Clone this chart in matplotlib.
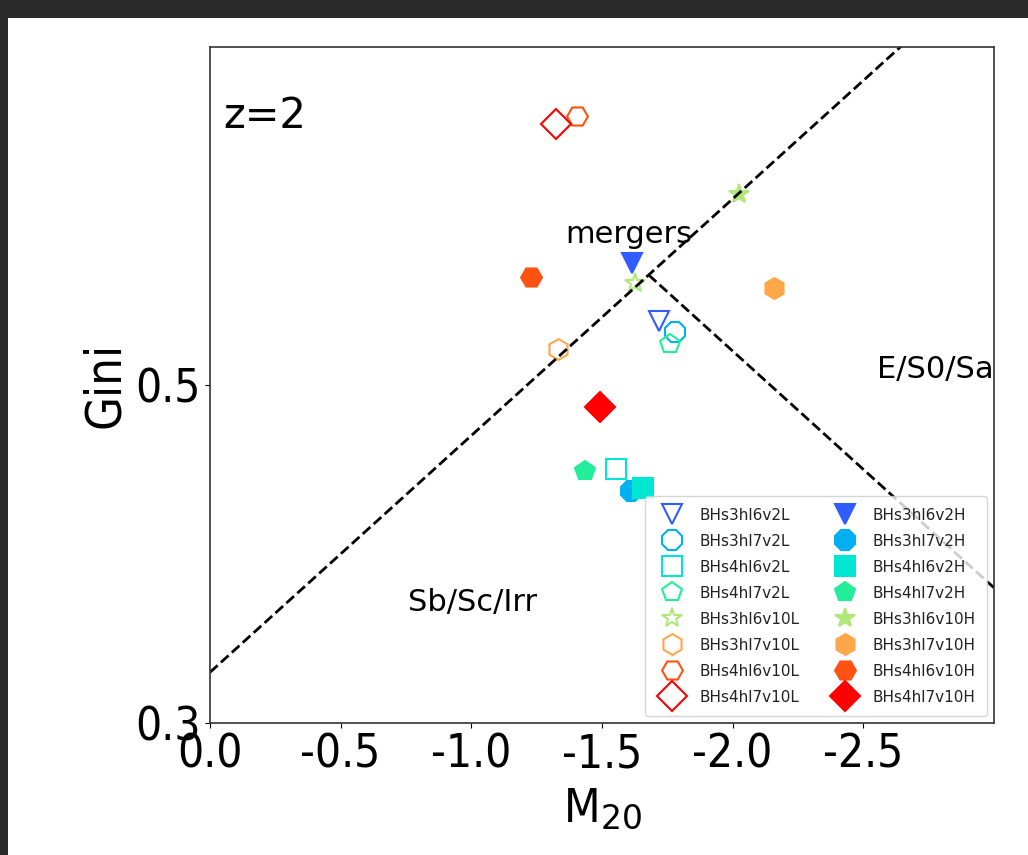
import matplotlib
matplotlib.use("Agg")
import matplotlib.pyplot as plt
from matplotlib.patches import Rectangle

# ---- data ----
names = ["BHs3hl6v2", "BHs3hl7v2", "BHs4hl6v2", "BHs4hl7v2",
         "BHs3hl6v10", "BHs3hl7v10", "BHs4hl6v10", "BHs4hl7v10"]
markers = ["v", "8", "s", "p", "*", "h", "H", "D"]
colors = ["#2f5dff", "#00b0f0", "#00e6d2", "#22ee9a",
          "#aee878", "#ffa64a", "#ff5212", "#ff0000"]

m20_L = [-1.719, -1.780, -1.555, -1.761, -1.627, -1.333, -1.405, -1.325]
gini_L = [0.538, 0.531, 0.450, 0.524, 0.560, 0.521, 0.659, 0.654]
m20_H = [-1.616, -1.612, -1.658, -1.436, -2.025, -2.159, -1.229, -1.493]
gini_H = [0.572, 0.437, 0.439, 0.449, 0.613, 0.557, 0.564, 0.487]

xticks = [0.0, -0.5, -1.0, -1.5, -2.0, -2.5]
yticks = [0.3, 0.5]

# Lotz et al. classification lines
merger_slope, merger_icpt = -0.14, 0.33
class_slope, class_icpt = 0.14, 0.80

W, H = 1028, 855
fig = plt.figure(figsize=(W / 100, H / 100), dpi=100)
fig.patch.set_facecolor("#2b2b2b")
bg = Rectangle((8 / W, 0), 1 - 8 / W, (H - 18) / H,
               transform=fig.transFigure, facecolor="white",
               edgecolor="none", zorder=-10)
fig.patches.append(bg)

ax = fig.add_axes([210 / W, 132 / H, 784 / W, 676.3 / H])
ax.set_zorder(5)
ax.set_facecolor("white")

ms = 15
for n, mk, c, x, y in zip(names, markers, colors, m20_L, gini_L):
    ax.plot([x], [y], linestyle="none", marker=mk, ms=ms, mfc="none",
            mec=c, mew=1.5, label=n + "L")
for n, mk, c, x, y in zip(names, markers, colors, m20_H, gini_H):
    ax.plot([x], [y], linestyle="none", marker=mk, ms=ms, mfc=c,
            mec=c, mew=1.5, label=n + "H")

xl = [0.0, -3.0]
ax.plot(xl, [merger_slope * v + merger_icpt for v in xl], "k--", lw=2)
x_int = (class_icpt - merger_icpt) / (merger_slope - class_slope)
xc = [x_int, -3.0]
ax.plot(xc, [class_slope * v + class_icpt for v in xc], "k--", lw=2)

ax.set_xlim(0, -3.0)
ax.set_ylim(0.3, 0.7)
ax.set_xticks(xticks)
ax.set_xticklabels([f"{v:.1f}" if v != 0 else "0.0" for v in xticks])
ax.set_yticks(yticks)
ax.set_yticklabels([f"{v:.1f}" for v in yticks])

for lab in ax.get_xticklabels() + ax.get_yticklabels():
    lab.set_fontsize(33)
    lab.set_fontstretch("condensed")
ax.set_xlabel(r"M$_{20}$", fontsize=34, fontstretch="condensed", labelpad=6)
ax.set_ylabel("Gini", fontsize=35, fontstretch="condensed", labelpad=4)

for sp in ax.spines.values():
    sp.set_color("#333333")
    sp.set_linewidth(1.2)

ax.text(-0.21, 0.659, "z=2", fontsize=30, ha="center", va="center")
ax.text(-1.603, 0.589, "mergers", fontsize=22, ha="center", va="center")
ax.text(-2.774, 0.509, "E/S0/Sa", fontsize=22, ha="center", va="center")
ax.text(-1.003, 0.371, "Sb/Sc/Irr", fontsize=22, ha="center", va="center")

leg = ax.legend(loc="lower right", ncol=2, fontsize=11, numpoints=1,
                labelspacing=0.72, borderpad=0.75, borderaxespad=0.45)
for t in leg.get_texts():
    t.set_color("#222222")

fig.savefig("out.png", dpi=100, facecolor=fig.get_facecolor())
